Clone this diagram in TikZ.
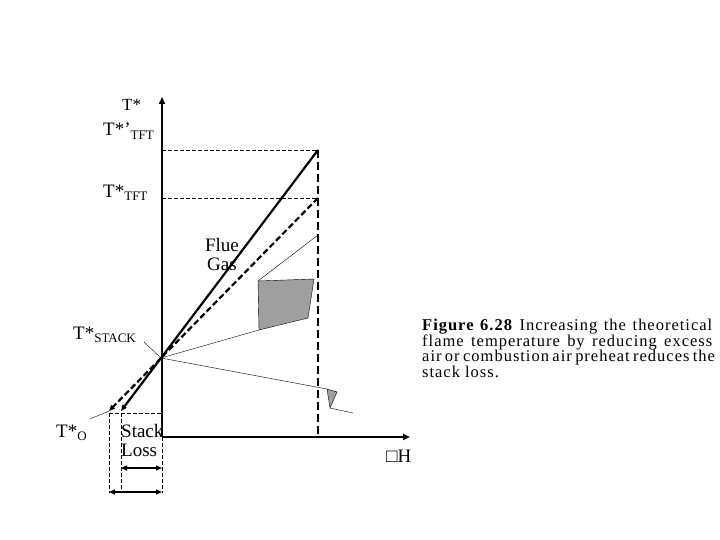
\documentclass[tikz,border=0pt]{standalone}
\usepackage{fontspec}
\setmainfont{Liberation Serif}
\newfontfamily\capfont[LetterSpace=6]{Liberation Serif}
\usetikzlibrary{arrows.meta,positioning}
\newcommand{\tsub}[1]{\raisebox{-0.35ex}{\fontsize{13}{13}\selectfont #1}}
\begin{document}
\begin{tikzpicture}[x=1pt,y=-1pt,
  ax/.style={line width=2.4pt, -{Triangle[length=7pt,width=6pt]}},
  guide/.style={dashed, thin, dash pattern=on 4pt off 2pt},
  hot/.style={line width=2.2pt, -{Triangle[length=6pt,width=5pt]}},
  lbl/.style={font=\fontsize{19}{19}\selectfont, inner sep=0pt, anchor=base west},
  patch/.style={fill=gray!75, draw=black, thin},
  span/.style={line width=1.6pt, {Triangle[length=6pt,width=5pt]}-{Triangle[length=6pt,width=5pt]}}]
\useasboundingbox (0,0) rectangle (720,540);
% axes
\coordinate (org) at (162,437);
\coordinate (ytop) at (162,97);
\coordinate (xend) at (410,437);
\draw[ax] (org) -- (ytop);
\draw[ax] (org) -- (xend);
% temperature levels
\coordinate (hi) at (162,150);
\coordinate (mid) at (162,198);
\coordinate (hiR) at (318,150);
\coordinate (midR) at (318,198);
\coordinate (base) at (318,437);
\draw[guide] (hi) -- (hiR);
\draw[guide] (mid) -- (midR);
\draw[line width=2.8pt, dash pattern=on 8pt off 4pt] (hiR) -- (base);
% flue gas lines
\coordinate (piv) at (161,358);
\coordinate (t0a) at (121,411);
\coordinate (t0b) at (109,411);
\draw[hot] (hiR) -- (t0a);
\draw[hot, dash pattern=on 6pt off 3pt] (midR) -- (t0b);
% heat loss patches
\coordinate (p1) at (258,281);
\coordinate (p2) at (314,279);
\coordinate (p3) at (308,318);
\coordinate (p4) at (259,330);
\coordinate (up) at (318,235);
\draw[thin] (piv) -- (p4);
\draw[patch] (p1) -- (p2) -- (p3) -- (p4) -- cycle;
\draw[thin] (p1) -- (up);
\coordinate (q1) at (327,389);
\coordinate (q2) at (337,392);
\coordinate (q3) at (330,408);
\coordinate (qend) at (353,413);
\draw[thin] (piv) -- (q1);
\draw[patch] (q1) -- (q2) -- (q3) -- cycle;
\draw[thin] (q3) -- (qend);
% stack loss spans
\coordinate (la) at (121,413);
\coordinate (lb) at (109,413);
\coordinate (lc) at (162,413);
\coordinate (la2) at (121,493);
\coordinate (lb2) at (109,493);
\coordinate (lc2) at (162,493);
\draw[guide] (lb) -- (lc);
\draw[guide] (la) -- (la2);
\draw[guide] (lb) -- (lb2);
\draw[guide] (lc) -- (lc2);
\coordinate (s1a) at (121,468);
\coordinate (s1b) at (162,468);
\coordinate (s2a) at (109,492);
\coordinate (s2b) at (162,492);
\draw[span] (s1a) -- (s1b);
\draw[span] (s2a) -- (s2b);
% labels
\node[lbl, font=\fontsize{17}{17}\selectfont] (tstar) at (122,111) {T*};
\node[lbl] (tftp) at (103,136) {T*’\tsub{TFT}};
\node[lbl] (tft) at (103,197) {T*\tsub{TFT}};
\node[font=\fontsize{19}{19}\selectfont, align=center, inner sep=0pt] (flue) at (222,255) {Flue\\Gas};
\node[lbl] (tstack) at (73,339) {T*\tsub{STACK}};
\node[lbl] (tzero) at (56,437) {T*\tsub{O}};
\node[lbl, align=left] (loss) at (121,456) {Stack\\Loss};
\node[lbl] (dh) at (386,462) {□H};
\coordinate (k1) at (144,342);
\coordinate (k2) at (90,419);
\draw[thin] (k1) -- (piv);
\draw[thin] (k2) -- (t0b);
\node[anchor=north west, inner sep=0pt, text width=290pt, align=justify,
  font=\capfont\fontsize{16.5}{15.5}\selectfont] (cap) at (422,319)
  {\hyphenpenalty=10000 \textbf{Figure 6.28} Increasing the theoretical flame temperature by reducing excess air or combustion air preheat reduces the stack loss.};
\end{tikzpicture}
\end{document}
